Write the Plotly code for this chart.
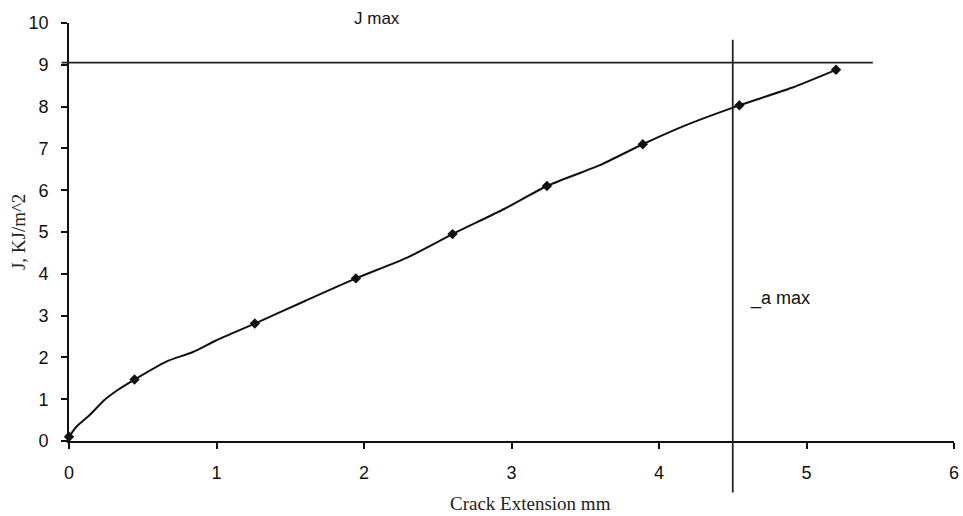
import plotly.graph_objects as go

# Measured points (diamond markers)
marker_x = [0.0, 0.444, 1.26, 1.945, 2.60, 3.24, 3.89, 4.545, 5.20]
marker_y = [0.10, 1.47, 2.81, 3.89, 4.95, 6.10, 7.10, 8.03, 8.88]

# Curve through the points
curve_x = [0.0, 0.05, 0.14, 0.24, 0.33, 0.444, 0.66, 0.84, 1.0, 1.26, 1.6, 1.945,
           2.3, 2.60, 2.95, 3.24, 3.6, 3.89, 4.2, 4.545, 4.9, 5.20]
curve_y = [0.10, 0.34, 0.62, 0.98, 1.22, 1.47, 1.90, 2.13, 2.41, 2.81, 3.35, 3.89,
           4.40, 4.95, 5.55, 6.10, 6.60, 7.10, 7.58, 8.03, 8.45, 8.88]

x_ticks = [0, 1, 2, 3, 4, 5, 6]
y_ticks = [0, 1, 2, 3, 4, 5, 6, 7, 8, 9, 10]

j_max = 9.05
a_max = 4.5

x_range = [0, 6]
y_range = [0, 10]

xspan = x_range[1] - x_range[0]
yspan = y_range[1] - y_range[0]


def px_(v):
    return (v - x_range[0]) / xspan


def py_(v):
    return (v - y_range[0]) / yspan


fig = go.Figure()
fig.add_trace(go.Scatter(x=curve_x, y=curve_y, mode="lines",
                         line=dict(color="#111111", width=2, shape="spline", smoothing=0.6),
                         hoverinfo="skip", showlegend=False))
fig.add_trace(go.Scatter(x=marker_x, y=marker_y, mode="markers",
                         marker=dict(symbol="diamond", size=8, color="#111111"),
                         cliponaxis=False, showlegend=False))

# J max horizontal line
fig.add_shape(type="line", xref="paper", yref="y",
              x0=px_(-0.05), x1=px_(5.45),
              y0=j_max, y1=j_max, line=dict(color="#222222", width=1.8))
# a max vertical line
fig.add_shape(type="line", xref="x", yref="paper",
              x0=a_max, x1=a_max,
              y0=py_(-1.23), y1=py_(9.6),
              line=dict(color="#222222", width=1.8))

fig.add_annotation(xref="paper", yref="paper", x=px_(2.09), y=py_(10.11),
                   xanchor="center", yanchor="middle",
                   text="J max", showarrow=False,
                   font=dict(family="Liberation Sans, Arial", size=17, color="#111111"))
fig.add_annotation(xref="x", yref="y", x=4.82, y=3.42, text="_a max", showarrow=False,
                   xanchor="center", yanchor="middle",
                   font=dict(family="Liberation Sans, Arial", size=18, color="#111111"))

# axis titles
fig.add_annotation(xref="paper", yref="paper", x=px_(3.13), y=py_(-1.50),
                   xanchor="center", yanchor="middle",
                   text="Crack Extension mm", showarrow=False,
                   font=dict(family="Liberation Serif, Times New Roman", size=19,
                             color="#222222"))
fig.add_annotation(xref="paper", yref="paper", x=-0.0575, y=py_(5.0),
                   xanchor="center", yanchor="middle",
                   text="J, KJ/m^2", showarrow=False, textangle=-90,
                   font=dict(family="Liberation Serif, Times New Roman", size=19,
                             color="#222222"))

axis_common = dict(showgrid=False, zeroline=False, showline=True, linecolor="#111111",
                   linewidth=1.8, ticks="outside", ticklen=6, tickwidth=1.5,
                   tickcolor="#111111", automargin=False,
                   tickfont=dict(family="Liberation Sans, Arial", size=18, color="#111111"))

fig.update_xaxes(range=x_range, tickvals=x_ticks, ticktext=[str(v) for v in x_ticks],
                 ticklabelstandoff=8, **axis_common)
fig.update_yaxes(range=y_range, tickvals=y_ticks, ticktext=[str(v) for v in y_ticks],
                 ticklabelstandoff=9, **axis_common)

fig.update_layout(width=963, height=516, plot_bgcolor="white", paper_bgcolor="white",
                  margin=dict(l=69, r=9, t=23, b=75), showlegend=False)

fig.write_html("out.html")
